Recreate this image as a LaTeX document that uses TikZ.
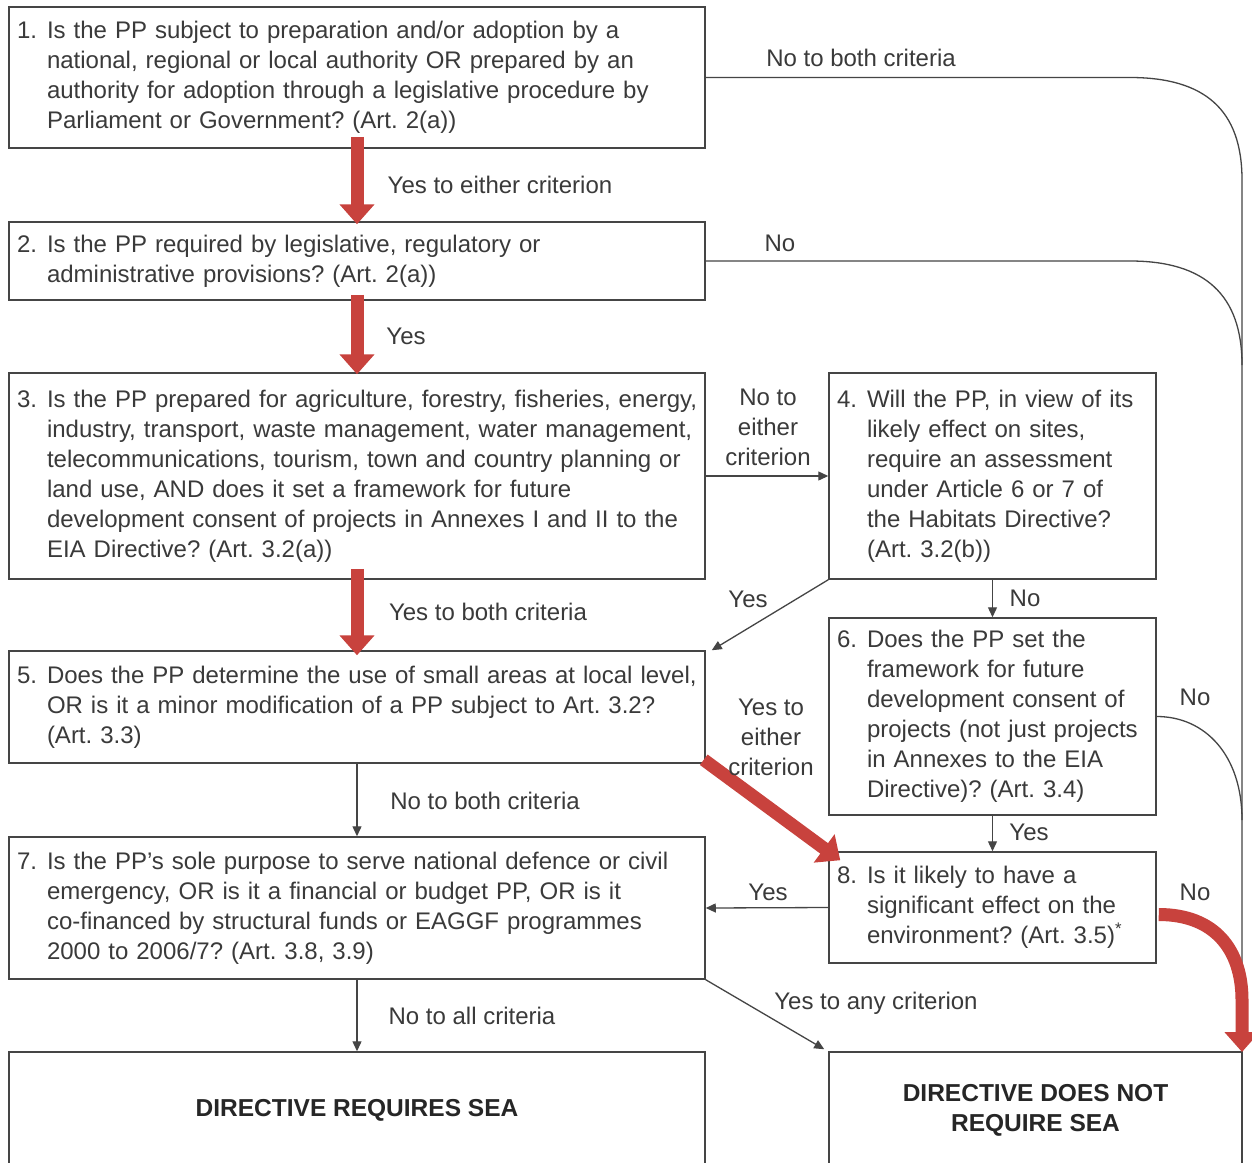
\documentclass[tikz,border=0pt]{standalone}
\usepackage{fontspec}
\setmainfont{Liberation Sans}
\usetikzlibrary{arrows.meta}
\definecolor{txt}{HTML}{3A3A3A}
\definecolor{ln}{HTML}{454545}
\definecolor{redarr}{HTML}{C8423D}
\newcommand{\qrows}[1]{\noindent\begin{tabular}{@{}p{30pt}@{}l@{}}#1\end{tabular}}
\frenchspacing
\begin{document}
\begin{tikzpicture}[x=1pt,y=-1pt,
  every node/.style={font=\fontsize{24}{30}\selectfont\frenchspacing, text=txt},
  qbox/.style={draw=ln, line width=1.5pt, inner xsep=8pt, inner ysep=0pt, align=left},
  widebox/.style={qbox, text width=680pt},
  narrowbox/.style={qbox, text width=311pt},
  endbox/.style={draw=ln, line width=1.5pt, inner sep=0pt, align=center,
    font=\fontsize{24.5}{30}\selectfont\bfseries, text=black!85},
  lab/.style={inner sep=0pt, align=center},
  conn/.style={draw=ln, line width=1.3pt, -{Triangle[length=10pt,width=9pt]}},
  redar/.style={draw=redarr, line width=13pt, -{Triangle[length=20pt,width=34pt]}}
]
\useasboundingbox (0,0) rectangle (1252,1162);
\fill[white] (0,0) rectangle (1252,1162);

% boxes
\node[widebox, minimum height=141pt] (b1) at (357,77.5) {\qrows{1.&Is the PP subject to preparation and/or adoption by a\\ &national, regional or local authority OR prepared by an\\ &authority for adoption through a legislative procedure by\\ &Parliament or Government? (Art. 2(a))}};
\node[widebox, minimum height=78pt] (b2) at (357,261) {\qrows{2.&Is the PP required by legislative, regulatory or\\ &administrative provisions? (Art. 2(a))}};
\node[widebox, minimum height=206pt] (b3) at (357,476) {\qrows{3.&Is the PP prepared for agriculture, forestry, fisheries, energy,\\ &industry, transport, waste management, water management,\\ &telecommunications, tourism, town and country planning or\\ &land use, AND does it set a framework for future\\ &development consent of projects in Annexes I and II to the\\ &EIA Directive? (Art. 3.2(a))}};
\node[narrowbox, minimum height=206pt] (b4) at (992.5,476) {\qrows{4.&Will the PP, in view of its\\ &likely effect on sites,\\ &require an assessment\\ &under Article 6 or 7 of\\ &the Habitats Directive?\\ &(Art. 3.2(b))}};
\node[widebox, minimum height=112pt] (b5) at (357,707) {\qrows{5.&Does the PP determine the use of small areas at local level,\\ &OR is it a minor modification of a PP subject to Art. 3.2?\\ &(Art. 3.3)}};
\node[narrowbox, minimum height=197pt] (b6) at (992.5,716.5) {\qrows{6.&Does the PP set the\\ &framework for future\\ &development consent of\\ &projects (not just projects\\ &in Annexes to the EIA\\ &Directive)? (Art. 3.4)}};
\node[widebox, minimum height=142pt] (b7) at (357,908) {\qrows{7.&Is the PP’s sole purpose to serve national defence or civil\\ &emergency, OR is it a financial or budget PP, OR is it\\ &co-financed by structural funds or EAGGF programmes\\ &2000 to 2006/7? (Art. 3.8, 3.9)}};
\node[narrowbox, minimum height=111pt] (b8) at (992.5,907.5) {\qrows{8.&Is it likely to have a\\ &significant effect on the\\ &environment? (Art. 3.5)\textsuperscript{*}}};
\node[endbox, minimum width=696pt, minimum height=116pt] (req) at (357,1110) {DIRECTIVE REQUIRES SEA};
\node[endbox, minimum width=413pt, minimum height=116pt] (nreq) at (1035.5,1110) {DIRECTIVE DOES NOT\\REQUIRE SEA};

\coordinate (rend) at (1242,1052);

% black connectors
\draw[ln, line width=1.3pt] (b1.east) -- (1130,77.5) .. controls (1205,77.5) and (1242,110) .. (1242,180) -- (rend);
\draw[ln, line width=1.3pt] (b2.east) -- (1130,261) .. controls (1205,261) and (1242,295) .. (1242,365);
\draw[ln, line width=1.3pt] (b6.east) .. controls (1205,716.5) and (1242,755) .. (1242,820);
\draw[conn] (b3.east) -- (b4.west);
\draw[conn] (b4.south west) -- ([xshift=6pt]b5.north east);
\draw[conn] (b4.south) -- (b6.north);
\draw[conn] (b6.south) -- (b8.north);
\draw[conn] (b8.west) -- (b7.east);
\draw[conn] (b5.south) -- (b7.north);
\draw[conn] (b7.south) -- (req.north);
\draw[conn] (b7.south east) -- ([shift={(-4,-2)}]nreq.north west);

% red arrows
\draw[redar] ([yshift=12pt]b1.south) -- ([yshift=-3pt]b2.north);
\draw[redar] ([yshift=6pt]b2.south) -- ([yshift=-2pt]b3.north);
\draw[redar] ([yshift=11pt]b3.south) -- ([yshift=-5pt]b5.north);
\draw[redar] ([shift={(-2,-4)}]b5.south east) -- ([shift={(12,9)}]b8.north west);
\draw[redar] ([shift={(2,7)}]b8.east) .. controls (1215,914.5) and (1242,950) .. (1242,1000) -- (rend);

% labels
\node[lab] (l1) at (861,58) {No to both criteria};
\node[lab] (l2) at (500,185) {Yes to either criterion};
\node[lab] (l3) at (780,243) {No};
\node[lab] (l4) at (406,336) {Yes};
\node[lab] (l5) at (768,427) {No to\\either\\criterion};
\node[lab] (l6) at (488,612) {Yes to both criteria};
\node[lab] (l7) at (748,599) {Yes};
\node[lab] (l8) at (1025,598) {No};
\node[lab] (l9) at (1195,697) {No};
\node[lab] (l10) at (771,737) {Yes to\\either\\criterion};
\node[lab] (l11) at (485,801) {No to both criteria};
\node[lab] (l12) at (1029,832) {Yes};
\node[lab] (l13) at (768,892) {Yes};
\node[lab] (l14) at (1195,892) {No};
\node[lab] (l15) at (876,1003) {Yes to any criterion};
\node[lab] (l16) at (472,1016) {No to all criteria};
\end{tikzpicture}
\end{document}
